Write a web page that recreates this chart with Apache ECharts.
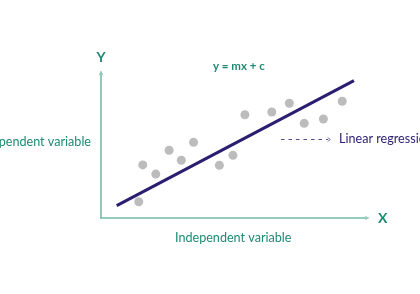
<!DOCTYPE html>
<html><head><meta charset="utf-8">
<script src="https://cdn.jsdelivr.net/npm/echarts@6/dist/echarts.min.js"></script>
<style>html,body{margin:0;padding:0;background:#fff}#c{width:420px;height:294px}</style>
</head><body><div id="c"></div>
<script>
// Observations (x, y) in arbitrary units
const pointsX = [1.42, 1.57, 2.06, 2.56, 3.02, 3.48, 4.45, 4.96, 5.41, 6.42, 7.08, 7.64, 8.36, 9.07];
const pointsY = [1.12, 3.66, 3.03, 4.67, 3.98, 5.22, 3.63, 4.32, 7.12, 7.31, 7.91, 6.53, 6.83, 8.05];
// Regression line endpoints
const lineX = [0.59, 9.51];
const lineY = [0.85, 9.47];
// Text labels
const xName = 'X';
const yName = 'Y';
const xLabel = 'Independent variable';
const yLabel = 'Dependent variable';
const eqLabel = 'y = mx + c';
const regLabel = 'Linear regression';

const teal = '#1e8a75';
const axisTeal = '#74bcac';
const navy = '#2b1d70';
const chevron = 'path://M0,10 L5,0 L10,10 L9,10.6 L5,2.6 L1,10.6 Z';

const chart = echarts.init(document.getElementById('c'));
chart.setOption({
  animation: false,
  grid: {left: 101, top: 73, right: 53, bottom: 76},
  xAxis: {
    type: 'value', min: 0, max: 10,
    name: xName, nameLocation: 'end', nameGap: 11,
    nameTextStyle: {color: teal, fontFamily: 'Lato', fontWeight: 'bold', fontSize: 14},
    axisLine: {show: true, onZero: false, lineStyle: {color: axisTeal, width: 1.6}, symbol: ['none', chevron], symbolSize: [9, 5], symbolOffset: [0, 0]},
    axisTick: {show: false}, axisLabel: {show: false}, splitLine: {show: false}
  },
  yAxis: {
    type: 'value', min: 0, max: 10,
    name: yName, nameLocation: 'end', nameGap: 9,
    nameTextStyle: {color: teal, fontFamily: 'Lato', fontWeight: 'bold', fontSize: 14},
    axisLine: {show: true, onZero: false, lineStyle: {color: axisTeal, width: 1.6}, symbol: ['none', chevron], symbolSize: [9, 5], symbolOffset: [0, 0]},
    axisTick: {show: false}, axisLabel: {show: false}, splitLine: {show: false}
  },
  series: [
    {
      type: 'scatter',
      data: pointsX.map((x, i) => [x, pointsY[i]]),
      symbolSize: 9,
      itemStyle: {color: '#ababab'},
      z: 2
    },
    {
      type: 'line',
      data: lineX.map((x, i) => [x, lineY[i]]),
      showSymbol: false,
      lineStyle: {color: navy, width: 3},
      z: 3
    }
  ],
  graphic: [
    {type: 'text', left: 213, top: 60, style: {text: eqLabel, fill: teal, font: 'bold 11.5px Lato'}},
    {type: 'text', right: 329, top: 135, style: {text: yLabel, fill: teal, font: '12.6px Lato', textAlign: 'right'}},
    {type: 'text', left: 175, top: 231, style: {text: xLabel, fill: teal, font: '12.6px Lato'}},
    {type: 'text', left: 339, top: 132, style: {text: regLabel, fill: navy, font: '12.6px Lato'}},
    {type: 'line', shape: {x1: 281, y1: 139.5, x2: 328, y2: 139.5}, style: {stroke: navy, lineWidth: 1, lineDash: [3.5, 4], opacity: 0.8}},
    {type: 'polyline', shape: {points: [[328, 137.5], [330, 139.5], [328, 141.5]]}, style: {stroke: navy, lineWidth: 1, fill: null, opacity: 0.8}}
  ]
});
</script></body></html>
